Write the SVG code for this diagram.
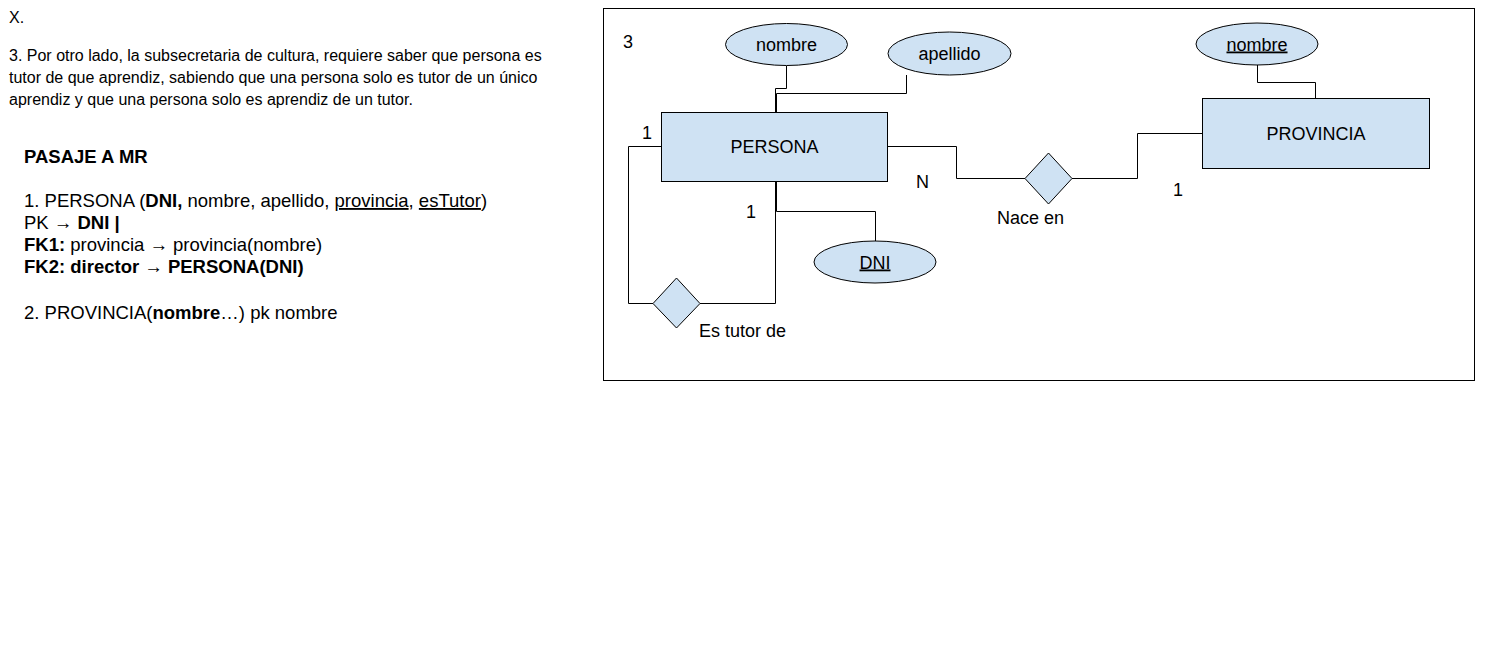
<svg xmlns="http://www.w3.org/2000/svg" width="1486" height="662" viewBox="0 0 1486 662">
<style>
text{font-family:"Liberation Sans",Arial,sans-serif;fill:#000}
.p{font-size:16px}
.m{font-size:18.5px}
.d{font-size:18px}
.b{font-weight:bold}
.u{text-decoration:underline}
.ent{fill:#cfe2f3;stroke:#000;stroke-width:1}
.ln{fill:none;stroke:#000;stroke-width:1}
</style>
<rect width="1486" height="662" fill="#fff"/>
<g id="text-left">
<text class="p" x="9" y="23">X.</text>
<text class="p" x="9" y="61">3. Por otro lado, la subsecretaria de cultura, requiere saber que persona es</text>
<text class="p" x="9" y="83">tutor de que aprendiz, sabiendo que una persona solo es tutor de un único</text>
<text class="p" x="9" y="105">aprendiz y que una persona solo es aprendiz de un tutor.</text>
<text class="m b" x="24" y="163">PASAJE A MR</text>
<text class="m" x="24" y="207">1. PERSONA (<tspan class="b">DNI,</tspan> nombre, apellido, <tspan class="u">provincia</tspan>, <tspan class="u">esTutor</tspan>)</text>
<text class="m" x="24" y="229">PK → <tspan class="b">DNI |</tspan></text>
<text class="m" x="24" y="251"><tspan class="b">FK1:</tspan> provincia → provincia(nombre)</text>
<text class="m b" x="24" y="273">FK2: director → PERSONA(DNI)</text>
<text class="m" x="24" y="319">2. PROVINCIA(<tspan class="b">nombre</tspan>…) pk nombre</text>
</g>
<g id="frame">
<rect x="603.5" y="8.5" width="871" height="372" fill="none" stroke="#000" stroke-width="1"/>
<text class="d" x="623" y="48">3</text>
</g>
<g id="connectors">
<polyline class="ln" points="786.5,66 786.5,88.5 775.5,88.5 775.5,112"/>
<polyline class="ln" points="906.5,75 906.5,93.5 776.5,93.5 776.5,112"/>
<polyline class="ln" points="888,146.5 956.5,146.5 956.5,178.5 1025,178.5"/>
<polyline class="ln" points="1072,178.5 1137.5,178.5 1137.5,133.5 1202,133.5"/>
<polyline class="ln" points="1257.5,65 1257.5,82.5 1315.5,82.5 1315.5,98"/>
<polyline class="ln" points="661,146.5 628.5,146.5 628.5,303.5 653,303.5"/>
<polyline class="ln" points="700,303.5 775.5,303.5 775.5,181"/>
<polyline class="ln" points="776.5,181 776.5,211.5 875.5,211.5 875.5,241"/>
<text class="d" x="642" y="139">1</text>
<text class="d" x="916" y="188">N</text>
<text class="d" x="746" y="218">1</text>
<text class="d" x="1173" y="196">1</text>
</g>
<g id="persona">
<rect class="ent" x="661.5" y="112.5" width="226" height="69"/>
<text class="d" x="774.5" y="153" text-anchor="middle">PERSONA</text>
</g>
<g id="provincia">
<rect class="ent" x="1202.5" y="98.5" width="227" height="70"/>
<text class="d" x="1316" y="140" text-anchor="middle">PROVINCIA</text>
</g>
<g id="attr-nombre">
<ellipse class="ent" cx="786.5" cy="44.5" rx="61" ry="21"/>
<text class="d" x="786.5" y="51" text-anchor="middle">nombre</text>
</g>
<g id="attr-apellido">
<ellipse class="ent" cx="949.5" cy="53.5" rx="61.5" ry="21.5"/>
<text class="d" x="949.5" y="60" text-anchor="middle">apellido</text>
</g>
<g id="attr-dni">
<ellipse class="ent" cx="875" cy="262" rx="61" ry="21"/>
<text class="d u" x="875" y="268.5" text-anchor="middle">DNI</text>
</g>
<g id="attr-prov-nombre">
<ellipse class="ent" cx="1257" cy="44" rx="61" ry="21"/>
<text class="d u" x="1257" y="50.5" text-anchor="middle">nombre</text>
</g>
<g id="rel-nace">
<polygon class="ent" points="1048.5,153 1072,178.5 1048.5,204 1025,178.5"/>
<text class="d" x="997" y="224">Nace en</text>
</g>
<g id="rel-tutor">
<polygon class="ent" points="676.5,278 700,303.5 676.5,328 653,303.5"/>
<text class="d" x="699" y="337">Es tutor de</text>
</g>
</svg>
